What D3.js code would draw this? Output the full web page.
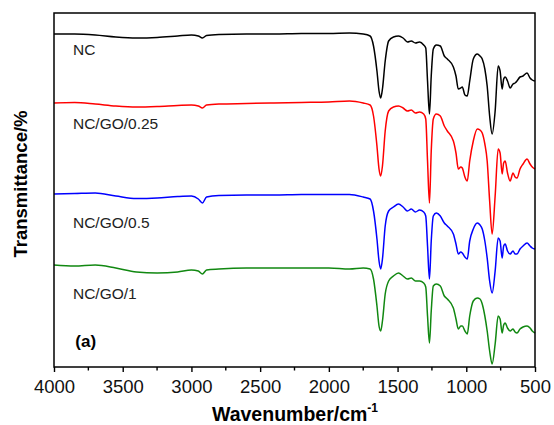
<!DOCTYPE html>
<html>
<head>
<meta charset="utf-8">
<script src="https://cdn.jsdelivr.net/npm/d3@7"></script>
<style>
  body { margin: 0; background: #fff; }
  svg { display: block; }
  text { font-family: "Liberation Sans", Arial, sans-serif; }
</style>
</head>
<body>
<div id="chart"></div>
<script>
// Wavenumbers (cm-1) shared by every spectrum
const wavenumbers = [4000, 3850, 3700, 3550, 3400, 3250, 3100, 3000, 2950, 2920, 2890, 2800, 2600, 2400, 2200, 2000,
  1850, 1750, 1700, 1675, 1650, 1635, 1623, 1610, 1590, 1565, 1530, 1493, 1460, 1428, 1400, 1370, 1340, 1310,
  1295, 1282, 1268, 1255, 1240, 1218, 1189, 1160, 1138, 1094, 1075, 1058, 1040, 1029, 1010, 993, 975, 949, 920,
  900, 884, 865, 848, 830, 812, 790, 768, 754, 739, 728, 717, 700, 681, 660, 645, 631, 609, 587, 558, 536, 520, 500];

// Transmittance (a.u., curves already offset)
const nc = [66.6, 66.6, 66.4, 66.0, 65.8, 65.9, 66.2, 66.4, 66.2, 65.8, 66.3, 66.5, 66.6, 66.6, 66.7, 66.7,
  66.8, 66.6, 66.2, 64.2, 59.2, 55.2, 53.8, 55.6, 61.2, 65.2, 66.0, 66.2, 65.8, 65.0, 65.2, 64.8, 65.0, 64.4,
  63.8, 57.2, 50.6, 58.2, 63.6, 64.4, 64.2, 62.2, 61.6, 60.0, 58.2, 55.6, 55.8, 56.0, 54.4, 54.2, 57.2, 61.6, 62.6,
  62.2, 61.6, 59.6, 56.2, 50.2, 46.6, 51.2, 60.2, 59.2, 55.6, 57.6, 58.0, 57.2, 55.8, 56.6, 56.8, 57.2, 58.0, 58.2, 58.8, 57.8, 57.4, 57.2];
const ncGo025 = [52.8, 52.9, 52.6, 52.2, 52.0, 52.1, 52.3, 52.4, 52.2, 51.8, 52.4, 52.6, 52.7, 52.8, 52.9, 53.0,
  53.2, 52.8, 52.4, 50.2, 44.2, 39.6, 38.2, 40.2, 47.2, 51.2, 52.0, 52.2, 51.8, 51.2, 51.4, 50.8, 51.0, 50.6,
  49.6, 41.2, 32.8, 43.2, 49.6, 50.6, 50.2, 48.2, 47.2, 45.2, 42.8, 39.6, 40.0, 39.8, 38.0, 37.2, 41.2, 45.2, 47.6,
  47.4, 46.8, 44.6, 41.2, 33.2, 26.6, 34.2, 43.6, 42.8, 38.6, 40.8, 41.2, 38.8, 37.2, 38.8, 38.0, 37.8, 39.6, 40.6, 41.6, 40.6, 40.0, 39.6];
const ncGo05 = [34.6, 34.7, 34.8, 34.2, 33.7, 33.8, 34.1, 34.2, 33.6, 32.8, 34.0, 34.3, 34.4, 34.4, 34.5, 34.5,
  34.5, 34.0, 33.6, 31.2, 25.6, 21.2, 19.6, 21.6, 28.2, 31.2, 32.0, 32.6, 32.0, 31.2, 31.6, 31.0, 31.4, 31.0,
  30.2, 24.2, 17.6, 25.2, 30.2, 30.8, 30.2, 28.8, 28.2, 26.6, 24.6, 22.6, 23.0, 22.8, 22.0, 21.6, 25.2, 27.6, 28.8,
  28.4, 27.6, 25.2, 21.8, 17.2, 14.8, 19.2, 25.8, 25.2, 21.8, 24.2, 24.6, 23.2, 22.6, 23.2, 22.6, 22.6, 23.6, 24.2, 24.8, 24.2, 23.8, 23.6];
const ncGo1 = [20.4, 20.2, 20.4, 19.8, 19.0, 18.8, 19.0, 19.4, 19.2, 18.6, 19.4, 19.6, 19.8, 19.8, 19.8, 19.8,
  19.6, 19.8, 19.6, 17.6, 12.2, 8.2, 7.2, 9.2, 14.6, 17.2, 18.2, 18.8, 18.2, 17.6, 17.8, 17.2, 17.2, 16.8,
  16.0, 10.2, 4.8, 11.2, 16.2, 16.6, 16.2, 14.2, 13.6, 11.8, 9.6, 7.6, 8.2, 8.2, 7.2, 6.6, 10.2, 13.2, 13.8,
  13.6, 12.6, 10.2, 7.2, 3.2, 0.6, 4.6, 10.2, 9.6, 6.8, 8.4, 8.8, 7.8, 7.2, 7.6, 7.0, 6.8, 7.6, 8.0, 8.2, 7.8, 7.2, 6.8];

const seriesNames = ["NC", "NC/GO/0.25", "NC/GO/0.5", "NC/GO/1"];
const seriesColors = ["#000000", "#ff0000", "#0000ff", "#118811"];
const seriesValues = [nc, ncGo025, ncGo05, ncGo1];
const labelValues = [62.4, 47.6, 27.8, 13.6];   // where each name sits
const xTicks = [4000, 3500, 3000, 2500, 2000, 1500, 1000, 500];
const xMinorTicks = [3750, 3250, 2750, 2250, 1750, 1250, 750];

const width = 554, height = 425;
const margin = { top: 13, right: 19, bottom: 58, left: 54 };

const svg = d3.select("#chart").append("svg")
  .attr("width", width)
  .attr("height", height);

const x = d3.scaleLinear().domain([4000, 500]).range([margin.left, width - margin.right]);
const y = d3.scaleLinear().domain([0, 70.8]).range([height - margin.bottom, margin.top]);

const line = d3.line()
  .x(d => x(d[0]))
  .y(d => y(d[1]))
  .curve(d3.curveMonotoneX);

const lines = svg.append("g").attr("class", "lines");
seriesValues.forEach((vals, i) => {
  lines.append("path")
    .datum(wavenumbers.map((w, j) => [w, vals[j]]))
    .attr("d", line)
    .attr("fill", "none")
    .attr("stroke", seriesColors[i])
    .attr("stroke-width", 1.5)
    .attr("stroke-linejoin", "round");

  svg.append("text")
    .attr("x", x(3862))
    .attr("y", y(labelValues[i]))
    .attr("font-size", 15.5)
    .attr("fill", "#222")
    .text(seriesNames[i]);
});

svg.append("text")
  .attr("x", x(3845))
  .attr("y", y(4))
  .attr("font-size", 17)
  .attr("font-weight", "bold")
  .text("(a)");

// frame
svg.append("rect")
  .attr("x", margin.left)
  .attr("y", margin.top)
  .attr("width", width - margin.left - margin.right)
  .attr("height", height - margin.top - margin.bottom)
  .attr("fill", "none")
  .attr("stroke", "#000")
  .attr("stroke-width", 1.5);

const xAxis = svg.append("g")
  .attr("transform", `translate(0,${height - margin.bottom})`)
  .call(d3.axisBottom(x).tickValues(xTicks).tickSize(5).tickPadding(8).tickFormat(d3.format("d")));
xAxis.select(".domain").remove();
xAxis.selectAll("line").attr("stroke-width", 1.4);
xAxis.selectAll("text").attr("font-size", 18.5).attr("font-family", "Liberation Sans, Arial, sans-serif").attr("fill", "#111");

svg.append("g")
  .attr("transform", `translate(0,${height - margin.bottom})`)
  .selectAll("line")
  .data(xMinorTicks)
  .join("line")
  .attr("x1", d => x(d)).attr("x2", d => x(d))
  .attr("y1", 0).attr("y2", 3.5)
  .attr("stroke", "#000")
  .attr("stroke-width", 1.4);

svg.append("text")
  .attr("x", 212)
  .attr("y", 421)
  .attr("font-size", 19.5)
  .attr("font-weight", "bold")
  .text("Wavenumber/cm")
  .append("tspan")
  .attr("dy", -9)
  .attr("font-size", 12)
  .text("-1");

svg.append("text")
  .attr("transform", `translate(27,${(margin.top + height - margin.bottom) / 2 - 6}) rotate(-90)`)
  .attr("text-anchor", "middle")
  .attr("font-size", 18.5)
  .attr("font-weight", "bold")
  .text("Transmittance/%");
</script>
</body>
</html>
